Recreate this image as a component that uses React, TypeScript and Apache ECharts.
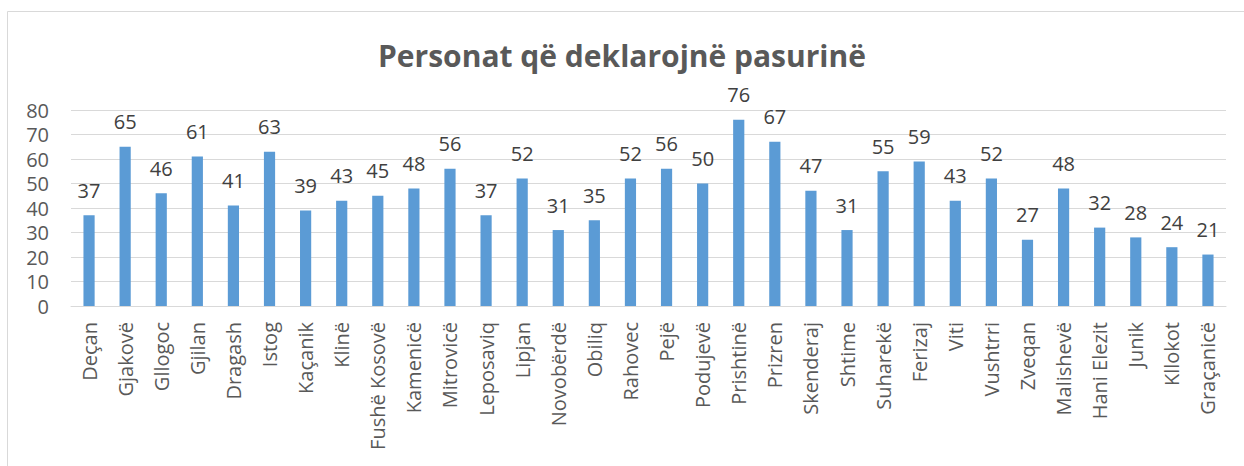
import React, { useEffect, useRef } from "react";
import * as echarts from "echarts";

const titleText = "Personat që deklarojnë pasurinë";
const categories = [
  "Deçan", "Gjakovë", "Gllogoc", "Gjilan", "Dragash", "Istog", "Kaçanik", "Klinë",
  "Fushë Kosovë", "Kamenicë", "Mitrovicë", "Leposaviq", "Lipjan", "Novobërdë", "Obiliq",
  "Rahovec", "Pejë", "Podujevë", "Prishtinë", "Prizren", "Skenderaj", "Shtime", "Suharekë",
  "Ferizaj", "Viti", "Vushtrri", "Zveqan", "Malishevë", "Hani Elezit", "Junik", "Kllokot", "Graçanicë",
];
const values = [
  37, 65, 46, 61, 41, 63, 39, 43, 45, 48, 56, 37, 52, 31, 35, 52, 56, 50, 76, 67, 47, 31, 55,
  59, 43, 52, 27, 48, 32, 28, 24, 21,
];
const yMin = 0;
const yMax = 80;
const yStep = 10;

export default function App() {
  const ref = useRef<HTMLDivElement>(null);
  useEffect(() => {
    if (!ref.current) return;
    const chart = echarts.init(ref.current, undefined, { renderer: "svg" });
    const font = "'Open Sans', 'DejaVu Sans', sans-serif";
    chart.setOption({
      animation: false,
      backgroundColor: "#ffffff",
      title: {
        text: titleText,
        left: "center",
        top: 35,
        textStyle: { fontFamily: font, fontSize: 30, fontWeight: "bold", color: "#595959" },
      },
      graphic: [
        {
          type: "rect",
          shape: { x: 7.5, y: 11.5, width: 1260, height: 480 },
          style: { fill: "none", stroke: "#d9d9d9", lineWidth: 1 },
          silent: true,
        },
      ],
      grid: { left: 71, right: 18, top: 110, bottom: 160, containLabel: false },
      xAxis: {
        type: "category",
        data: categories,
        axisLine: { show: true, lineStyle: { color: "#d9d9d9", width: 1 } },
        axisTick: { show: false },
        axisLabel: {
          interval: 0,
          rotate: 90,
          margin: 16,
          color: "#595959",
          fontFamily: font,
          fontSize: 20,
        },
      },
      yAxis: {
        type: "value",
        min: yMin,
        max: yMax,
        interval: yStep,
        axisLine: { show: false },
        axisTick: { show: false },
        splitLine: { show: true, lineStyle: { color: "#d9d9d9", width: 1 } },
        axisLabel: { color: "#595959", fontFamily: font, fontSize: 20, margin: 22 },
      },
      series: [
        {
          type: "bar",
          data: values,
          barWidth: "31%",
          itemStyle: { color: "#5b9bd5" },
          label: {
            show: true,
            position: "top",
            distance: 15,
            color: "#404040",
            fontFamily: font,
            fontSize: 20,
          },
        },
      ],
    });
    return () => chart.dispose();
  }, []);
  return (
    <div
      ref={ref}
      style={{ position: "absolute", left: 0, top: 0, width: 1244, height: 466 }}
    />
  );
}
